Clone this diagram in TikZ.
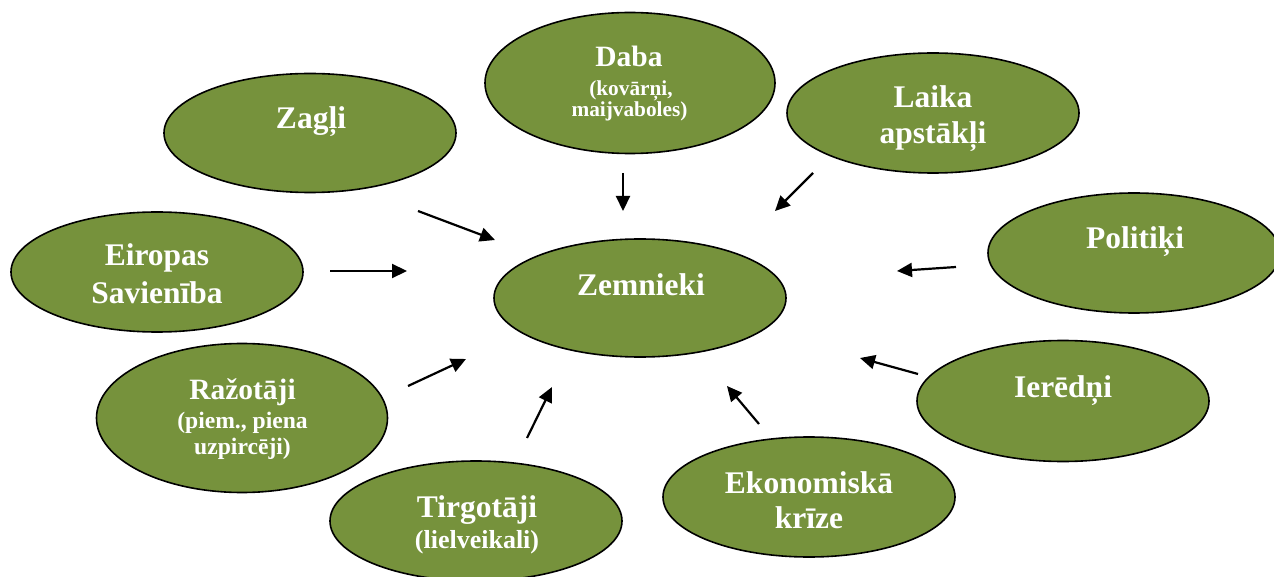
\documentclass[tikz,border=0pt]{standalone}
\usepackage{fontspec}
\setmainfont{Liberation Serif}
\usetikzlibrary{shapes.geometric,arrows.meta}
\definecolor{leafgreen}{RGB}{118,146,60}
\begin{document}
\begin{tikzpicture}[x=1pt,y=-1pt,
  blob/.style={ellipse,draw=black,line width=1.6pt,fill=leafgreen,inner sep=0pt,minimum width=292pt,minimum height=120pt},
  lbl/.style={text=white,font=\bfseries\fontsize{31.5}{36}\selectfont,anchor=base,inner sep=0pt},
  lblm/.style={text=white,font=\bfseries\fontsize{29.5}{34}\selectfont,anchor=base,inner sep=0pt},
  lbls/.style={text=white,font=\bfseries\fontsize{21.3}{24}\selectfont,anchor=base,inner sep=0pt},
  lblr/.style={text=white,font=\bfseries\fontsize{23.6}{27}\selectfont,anchor=base,inner sep=0pt},
  lblt/.style={text=white,font=\bfseries\fontsize{26}{30}\selectfont,anchor=base,inner sep=0pt},
  arr/.style={line width=2.2pt,-{Triangle[length=15pt,width=14pt]}}]
\useasboundingbox (0,0) rectangle (1274,577);
\clip (0,0) rectangle (1274,577);

% ellipses
\node[blob,minimum width=290pt,minimum height=141pt] (daba) at (630,83) {};
\node[blob,minimum height=119pt] (zagli) at (310,133) {};
\node[blob] (laika) at (933,113) {};
\node[blob] (eiropas) at (157,272) {};
\node[blob,minimum height=118pt] (zemnieki) at (640,298) {};
\node[blob] (politiki) at (1134,253) {};
\node[blob,minimum height=121pt] (ieredni) at (1063,401) {};
\node[blob,minimum width=291pt,minimum height=149pt] (razotaji) at (242,418) {};
\node[blob] (tirgotaji) at (476,521) {};
\node[blob] (ekonom) at (809,497) {};

% texts
\node[lblm] (tDaba1) at (629,67) {Daba};
\node[lbls] (tDaba2) at (631,96) {(kovārņi,};
\node[lbls] (tDaba3) at (629.5,117) {maijvaboles)};
\node[lbl] (tZagli) at (311,129) {Zagļi};
\node[lbl] (tLaika1) at (933,108) {Laika};
\node[lbl] (tLaika2) at (933,144) {apstākļi};
\node[lbl] (tEiropas1) at (157,266) {Eiropas};
\node[lbl] (tEiropas2) at (157,303) {Savienība};
\node[lbl] (tZemnieki) at (641,295) {Zemnieki};
\node[lbl] (tPolitiki) at (1135,249) {Politiķi};
\node[lbl] (tIeredni) at (1063,397) {Ierēdņi};
\node[lblm] (tRaz1) at (242.5,399) {Ražotāji};
\node[lblr] (tRaz2) at (242.5,428) {(piem., piena};
\node[lblr] (tRaz3) at (242.5,454) {uzpircēji)};
\node[lbl] (tTirg1) at (477,517) {Tirgotāji};
\node[lblt] (tTirg2) at (477,548) {(lielveikali)};
\node[lbl] (tEkon1) at (809,493) {Ekonomiskā};
\node[lbl] (tEkon2) at (809,528) {krīze};

% arrow end points
\coordinate (aDs) at (623,173);   \coordinate (aDe) at (623,211);
\coordinate (aLs) at (813,173);   \coordinate (aLe) at (775,211);
\coordinate (aZs) at (418,211);   \coordinate (aZe) at (495,240);
\coordinate (aEs) at (330,271);   \coordinate (aEe) at (407,271);
\coordinate (aPs) at (956,267);   \coordinate (aPe) at (897,271);
\coordinate (aIs) at (918,374);   \coordinate (aIe) at (860,358);
\coordinate (aRs) at (408,386);   \coordinate (aRe) at (466,359);
\coordinate (aTs) at (527,438);   \coordinate (aTe) at (552,387);
\coordinate (aKs) at (759,424);   \coordinate (aKe) at (727,386);

\draw[arr] (aDs) -- (aDe);
\draw[arr] (aLs) -- (aLe);
\draw[arr] (aZs) -- (aZe);
\draw[arr] (aEs) -- (aEe);
\draw[arr] (aPs) -- (aPe);
\draw[arr] (aIs) -- (aIe);
\draw[arr] (aRs) -- (aRe);
\draw[arr] (aTs) -- (aTe);
\draw[arr] (aKs) -- (aKe);
\end{tikzpicture}
\end{document}
